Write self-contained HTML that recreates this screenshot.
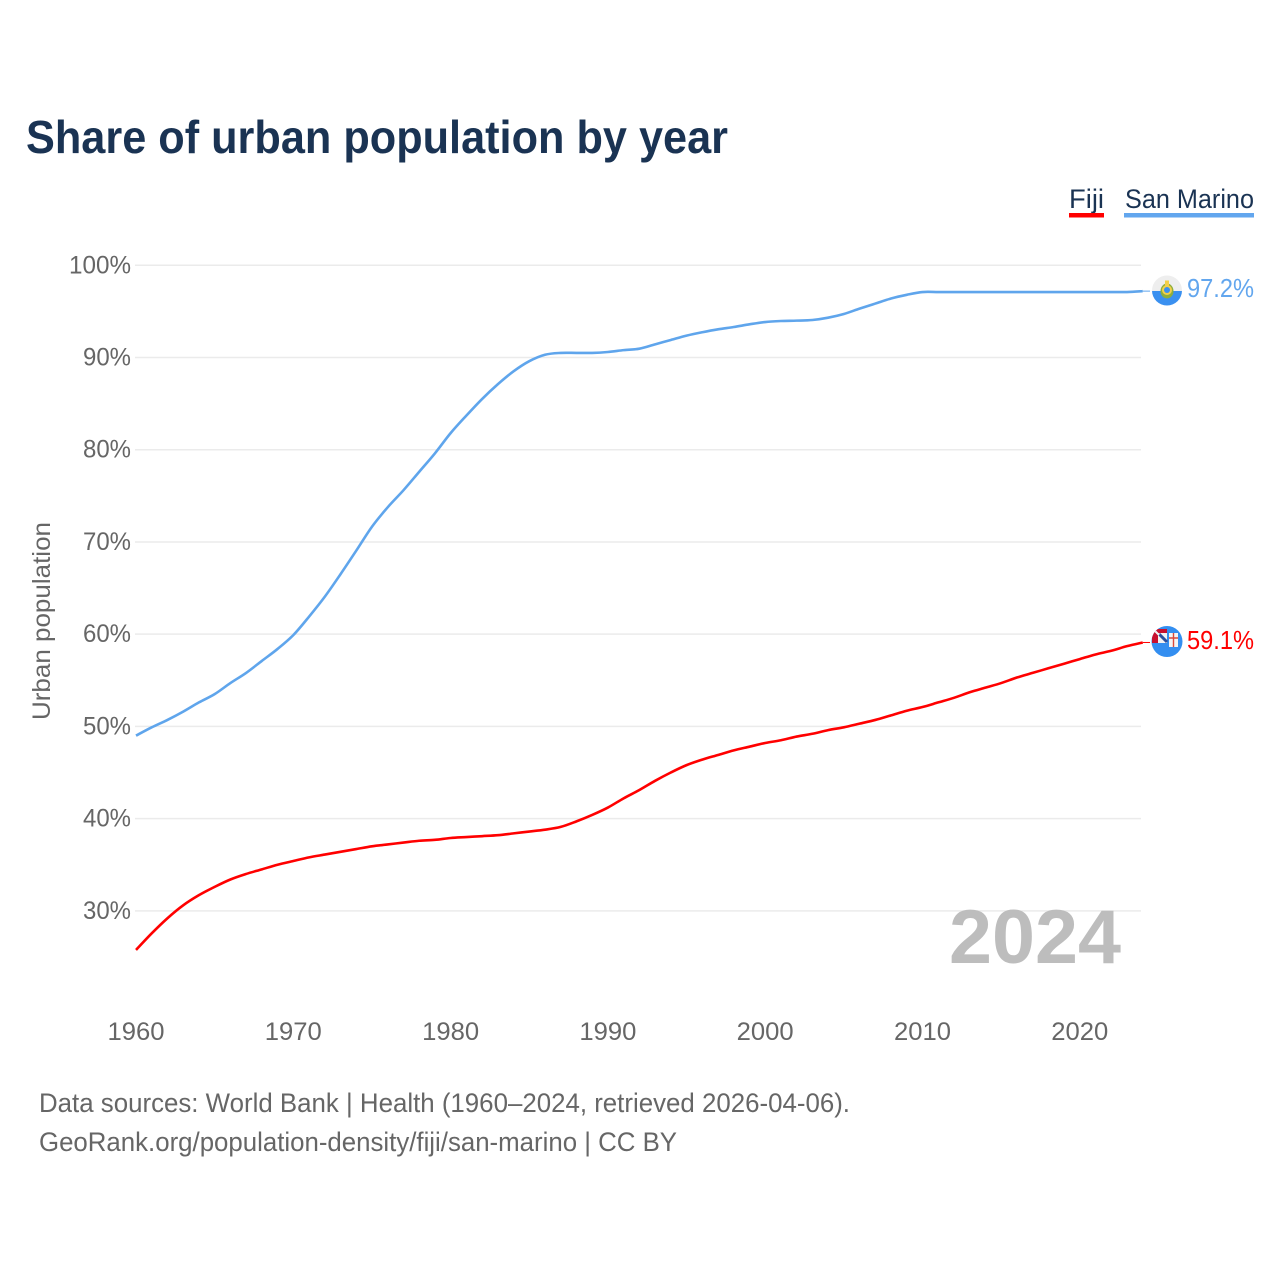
<!DOCTYPE html>
<html lang="en">
<head>
<meta charset="utf-8">
<title>Share of urban population by year</title>
<style>
html,body{margin:0;padding:0;background:#fff;width:1280px;height:1280px;overflow:hidden}
svg{display:block}
text{font-family:"Liberation Sans",sans-serif}
</style>
</head>
<body>
<svg id="chart" width="1280" height="1280" viewBox="0 0 1280 1280" xmlns="http://www.w3.org/2000/svg">
  <defs>
    <clipPath id="flag-clip-sm"><circle cx="1167" cy="290.5" r="15"/></clipPath>
    <clipPath id="flag-clip-fj"><circle cx="1167" cy="641.5" r="15.5"/></clipPath>
  </defs>
  <rect width="1280" height="1280" fill="#fff"/>
  <text x="26" y="153" font-size="46" font-weight="700" fill="#1a3353" textLength="702" lengthAdjust="spacingAndGlyphs">Share of urban population by year</text>

  <g>
    <g>
      <text x="1069" y="208" font-size="27" fill="#1a3353" textLength="35" lengthAdjust="spacingAndGlyphs">Fiji</text>
      <rect x="1069" y="213" width="35" height="4.5" fill="#ff0000"/>
    </g>
    <g>
      <text x="1125" y="208" font-size="27" fill="#1a3353" textLength="129" lengthAdjust="spacingAndGlyphs">San Marino</text>
      <rect x="1124" y="213" width="130" height="4.5" fill="#62a6ee"/>
    </g>
  </g>

  <g id="grid"></g>
  <g id="yticks"></g>
  <g id="xticks"></g>

  <text transform="translate(50,621) rotate(-90)" text-anchor="middle" font-size="25" fill="#666" textLength="198" lengthAdjust="spacingAndGlyphs">Urban population</text>

  <text x="949" y="963" font-size="76" font-weight="700" fill="#bdbdbd" textLength="172" lengthAdjust="spacingAndGlyphs">2024</text>

  <g id="series"></g>

  <g clip-path="url(#flag-clip-sm)">
    <rect x="1151" y="275" width="32" height="16" fill="#eeeeee"/>
    <rect x="1151" y="291" width="32" height="16" fill="#3a90f0"/>
    <ellipse cx="1167" cy="291" rx="6.5" ry="7.5" fill="#8fae3c"/>
    <circle cx="1167" cy="290" r="5" fill="#f3cf4a"/>
    <circle cx="1167" cy="290" r="3" fill="#3a90f0"/>
    <rect x="1165" y="280.5" width="4" height="6" fill="#f3cf4a"/>
  </g>

  <g clip-path="url(#flag-clip-fj)">
    <rect x="1150" y="625" width="34" height="34" fill="#338ef0"/>
    <rect x="1152" y="629" width="15" height="14" fill="#c8102e"/>
    <rect x="1158" y="633" width="9" height="10" fill="#f2f2f2"/>
    <path d="M1159 634L1167 642" stroke="#2a4f9e" stroke-width="3"/>
    <path d="M1155 631L1159 635" stroke="#f2f2f2" stroke-width="2"/>
    <rect x="1169" y="633" width="9" height="14" fill="#f4f4f4"/>
    <path d="M1173.5 633V647M1169 638H1178" stroke="#d9483b" stroke-width="1.4"/>
  </g>

  <text x="1187" y="297" font-size="26" fill="#62a6ee" textLength="67" lengthAdjust="spacingAndGlyphs">97.2%</text>
  <text x="1187" y="649" font-size="26" fill="#ff0000" textLength="67" lengthAdjust="spacingAndGlyphs">59.1%</text>

  <g>
    <text x="39" y="1112" font-size="27" fill="#666" textLength="811" lengthAdjust="spacingAndGlyphs">Data sources: World Bank | Health (1960–2024, retrieved 2026-04-06).</text>
    <text x="39" y="1151" font-size="27" fill="#666" textLength="638" lengthAdjust="spacingAndGlyphs">GeoRank.org/population-density/fiji/san-marino | CC BY</text>
  </g>
</svg>
<script>
const years = [1960,1961,1962,1963,1964,1965,1966,1967,1968,1969,1970,1971,1972,1973,1974,1975,1976,1977,1978,1979,1980,1981,1982,1983,1984,1985,1986,1987,1988,1989,1990,1991,1992,1993,1994,1995,1996,1997,1998,1999,2000,2001,2002,2003,2004,2005,2006,2007,2008,2009,2010,2011,2012,2013,2014,2015,2016,2017,2018,2019,2020,2021,2022,2023,2024];
const fijiValues = [25.76,27.56,29.2,30.6,31.7,32.6,33.4,34.0,34.5,35.0,35.4,35.8,36.1,36.4,36.7,37.0,37.2,37.4,37.6,37.7,37.9,38.0,38.1,38.2,38.4,38.6,38.8,39.1,39.7,40.4,41.2,42.2,43.1,44.1,45.0,45.8,46.4,46.9,47.4,47.8,48.2,48.5,48.9,49.2,49.6,49.9,50.3,50.7,51.2,51.7,52.1,52.6,53.1,53.7,54.2,54.7,55.3,55.8,56.3,56.8,57.3,57.8,58.2,58.7,59.1];
const sanMarinoValues = [49.0,49.9,50.7,51.6,52.6,53.5,54.7,55.8,57.1,58.4,59.9,61.9,64.06,66.5,69.05,71.65,73.76,75.6,77.6,79.6,81.8,83.7,85.5,87.1,88.5,89.6,90.3,90.5,90.5,90.5,90.6,90.8,90.96,91.43,91.9,92.37,92.74,93.06,93.31,93.6,93.85,93.96,94.0,94.07,94.32,94.72,95.3,95.85,96.4,96.8,97.1,97.1,97.1,97.1,97.1,97.1,97.1,97.1,97.1,97.1,97.1,97.1,97.1,97.1,97.2];
const yTickValues = [30,40,50,60,70,80,90,100];
const xTickValues = [1960,1970,1980,1990,2000,2010,2020];

const SVG_NS = 'http://www.w3.org/2000/svg';
const xScale = year => 136 + (year - 1960) * 15.73;
const yScale = pct => 265.3 + (100 - pct) * 9.222;

function make(tag, attrs, parent, content) {
  const el = document.createElementNS(SVG_NS, tag);
  for (const k in attrs) el.setAttribute(k, attrs[k]);
  if (content !== undefined) el.textContent = content;
  parent.appendChild(el);
  return el;
}

const gridGroup = document.getElementById('grid');
const yTickGroup = document.getElementById('yticks');
yTickValues.forEach(v => {
  const y = yScale(v);
  const line = make('line', {x1: 135, x2: 1141, y1: y, y2: y, stroke: '#ebebeb', 'stroke-width': 1.5}, gridGroup);
  
  
  const label = make('text', {x: 131, y: y + 8, 'text-anchor': 'end', 'font-size': 25, fill: '#666', textLength: v === 100 ? 62 : 48, lengthAdjust: 'spacingAndGlyphs'}, yTickGroup, v + '%');
  
  
});

const xTickGroup = document.getElementById('xticks');
xTickValues.forEach(v => {
  const label = make('text', {x: xScale(v), y: 1040, 'text-anchor': 'middle', 'font-size': 25, fill: '#666', textLength: 57, lengthAdjust: 'spacingAndGlyphs'}, xTickGroup, String(v));
  
  
});

function linePath(values) {
  const pts = values.map((v, i) => [xScale(years[i]), yScale(v)]);
  let d = 'M' + pts[0][0].toFixed(2) + ' ' + pts[0][1].toFixed(2);
  for (let i = 0; i < pts.length - 1; i++) {
    const p0 = pts[Math.max(i - 1, 0)];
    const p1 = pts[i];
    const p2 = pts[i + 1];
    const p3 = pts[Math.min(i + 2, pts.length - 1)];
    const c1x = p1[0] + (p2[0] - p0[0]) / 6;
    const c1y = p1[1] + (p2[1] - p0[1]) / 6;
    const c2x = p2[0] - (p3[0] - p1[0]) / 6;
    const c2y = p2[1] - (p3[1] - p1[1]) / 6;
    d += 'C' + c1x.toFixed(2) + ' ' + c1y.toFixed(2) + ' ' + c2x.toFixed(2) + ' ' + c2y.toFixed(2) + ' ' + p2[0].toFixed(2) + ' ' + p2[1].toFixed(2);
  }
  return d;
}

const seriesGroup = document.getElementById('series');

const fijiLine = make('path', {d: linePath(fijiValues), fill: 'none', stroke: '#ff0000', 'stroke-width': 2.6, 'stroke-linejoin': 'round'}, seriesGroup);



const sanMarinoLine = make('path', {d: linePath(sanMarinoValues), fill: 'none', stroke: '#5fa5ec', 'stroke-width': 2.6, 'stroke-linejoin': 'round'}, seriesGroup);



const lastIndex = years.length - 1;
const fijiLeader = make('line', {x1: xScale(years[lastIndex]), x2: 1150, y1: yScale(fijiValues[lastIndex]), y2: yScale(fijiValues[lastIndex]), stroke: '#ff0000', 'stroke-width': 1}, seriesGroup);



const sanMarinoLeader = make('line', {x1: xScale(years[lastIndex]), x2: 1150, y1: yScale(sanMarinoValues[lastIndex]), y2: yScale(sanMarinoValues[lastIndex]), stroke: '#5fa5ec', 'stroke-width': 1}, seriesGroup);


</script>
</body>
</html>
